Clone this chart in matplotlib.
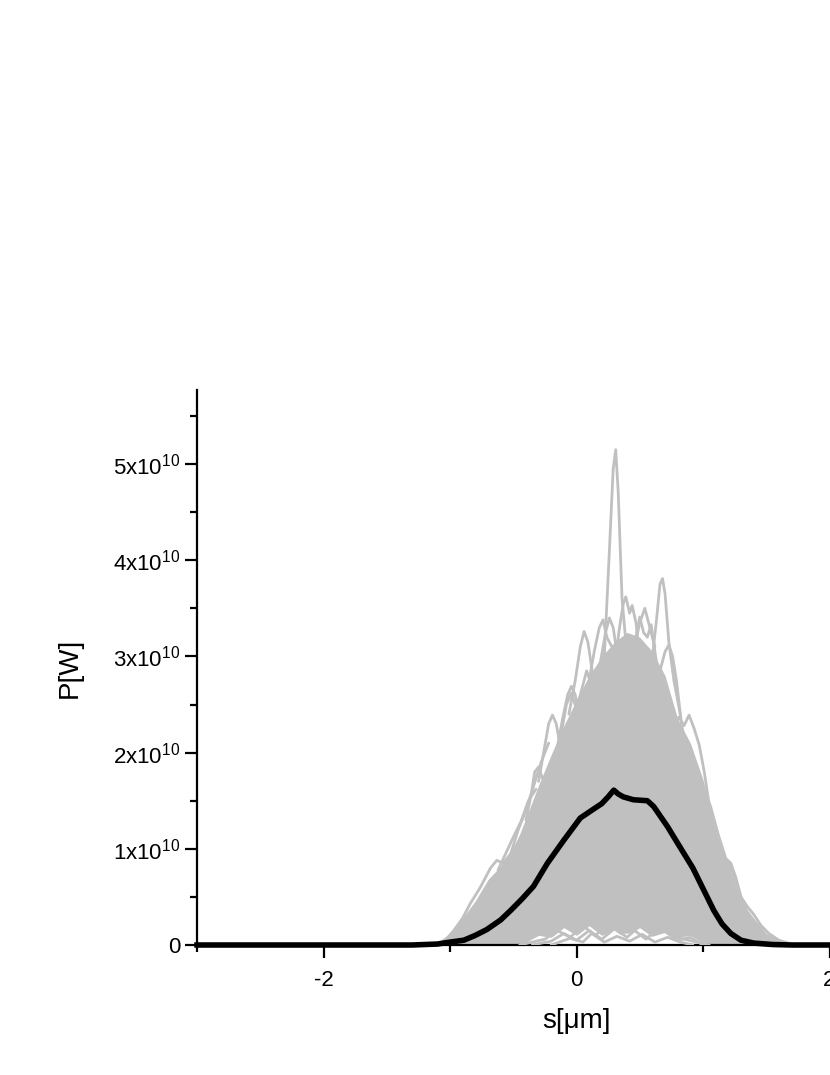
import matplotlib
matplotlib.use("Agg")
import matplotlib.pyplot as plt
from matplotlib.ticker import MultipleLocator, FuncFormatter

plt.rcParams['font.family'] = ['Liberation Sans', 'DejaVu Sans']
plt.rcParams['mathtext.fontset'] = 'custom'
plt.rcParams['mathtext.rm'] = 'Liberation Sans'
plt.rcParams['mathtext.it'] = 'Liberation Sans:italic'
plt.rcParams['mathtext.bf'] = 'Liberation Sans:bold'
plt.rcParams['axes.unicode_minus'] = False

UNIT = 1e10  # P values below are given in units of 1e10 W
GREY = '#c0c0c0'

# ---- dense bulk of the single-shot pulses (solid grey region) ----
bulk_s = [-1.15, -1.1, -1.0, -0.9, -0.8, -0.7, -0.6, -0.5, -0.45, -0.4, -0.3, -0.2,
          -0.1, 0.0, 0.1, 0.2, 0.3, 0.4, 0.5, 0.6, 0.7, 0.8, 0.9, 1.0, 1.05, 1.1,
          1.2, 1.3, 1.4, 1.5, 1.6, 1.7, 1.8]
bulk_top = [0.0, 0.03, 0.12, 0.28, 0.46, 0.68, 0.82, 1.02, 1.15, 1.32, 1.66, 1.98,
            2.28, 2.55, 2.8, 3.0, 3.15, 3.25, 3.2, 3.05, 2.8, 2.35, 2.1, 1.72, 1.45,
            1.15, 0.82, 0.46, 0.28, 0.12, 0.05, 0.01, 0.0]
bulk_bot = [0.0, 0.0, 0.0, 0.0, 0.0, 0.0, 0.0, 0.0, 0.0, 0.03, 0.1, 0.08, 0.18,
            0.1, 0.2, 0.1, 0.16, 0.12, 0.18, 0.1, 0.15, 0.08, 0.1, 0.02, 0.0, 0.0,
            0.0, 0.0, 0.0, 0.0, 0.0, 0.0, 0.0]

# ---- individual shots whose peaks stick out above the bulk ----
shot01_s = [0.18, 0.22, 0.26, 0.29, 0.31, 0.33, 0.36, 0.40, 0.44]
shot01_p = [2.6, 3.0, 4.1, 4.95, 5.15, 4.7, 3.6, 3.0, 2.7]
shot02_s = [0.56, 0.60, 0.63, 0.66, 0.68, 0.70, 0.73, 0.77, 0.82]
shot02_p = [2.7, 3.0, 3.35, 3.75, 3.81, 3.65, 3.15, 2.75, 2.4]
shot03_s = [0.62, 0.66, 0.70, 0.73, 0.76, 0.79, 0.83, 0.88]
shot03_p = [2.6, 2.85, 3.05, 3.12, 3.0, 2.75, 2.3, 1.9]
shot04_s = [-0.06, -0.01, 0.03, 0.06, 0.09, 0.13, 0.18]
shot04_p = [2.4, 2.75, 3.1, 3.26, 3.15, 2.8, 2.5]
shot05_s = [0.30, 0.34, 0.37, 0.39, 0.42, 0.44, 0.47, 0.50, 0.54]
shot05_p = [2.9, 3.3, 3.55, 3.62, 3.45, 3.53, 3.35, 3.0, 2.8]
shot06_s = [0.44, 0.47, 0.50, 0.53, 0.56, 0.59, 0.62, 0.66]
shot06_p = [2.9, 3.2, 3.41, 3.25, 3.2, 3.33, 3.05, 2.7]
shot07_s = [0.14, 0.19, 0.23, 0.26, 0.29, 0.33, 0.38]
shot07_p = [2.6, 2.95, 3.25, 3.4, 3.3, 2.95, 2.7]
shot08_s = [-0.16, -0.11, -0.07, -0.04, -0.01, 0.03, 0.08]
shot08_p = [2.0, 2.35, 2.6, 2.69, 2.6, 2.35, 2.2]
shot09_s = [-0.30, -0.26, -0.22, -0.19, -0.16, -0.12, -0.07]
shot09_p = [1.7, 2.0, 2.3, 2.39, 2.3, 2.0, 1.9]
shot10_s = [0.74, 0.78, 0.81, 0.85, 0.89, 0.93, 0.97, 1.01, 1.05, 1.10, 1.16]
shot10_p = [2.2, 2.3, 2.37, 2.28, 2.39, 2.25, 2.08, 1.8, 1.45, 1.15, 0.9]
shot11_s = [0.58, 0.62, 0.66, 0.70, 0.74]
shot11_p = [2.55, 2.75, 2.82, 2.7, 2.5]
shot12_s = [-1.05, -0.97, -0.90, -0.84, -0.76, -0.68, -0.63, -0.58, -0.52, -0.46,
            -0.40, -0.34, -0.28, -0.22]
shot12_p = [0.03, 0.15, 0.28, 0.43, 0.6, 0.8, 0.88, 0.85, 0.95, 1.2, 1.4, 1.65, 1.9, 2.1]
shot13_s = [1.00, 1.06, 1.12, 1.18, 1.22, 1.26, 1.30, 1.35, 1.40, 1.46, 1.52, 1.60, 1.70]
shot13_p = [1.65, 1.44, 1.15, 0.9, 0.85, 0.7, 0.5, 0.4, 0.32, 0.2, 0.12, 0.05, 0.01]
shot14_s = [-0.40, -0.36, -0.33, -0.30, -0.26, -0.22]
shot14_p = [1.3, 1.55, 1.8, 1.85, 1.7, 1.75]
shot15_s = [-0.12, -0.08, -0.04, 0.0, 0.04, 0.08, 0.12]
shot15_p = [2.2, 2.5, 2.62, 2.45, 2.65, 2.85, 2.7]
shot16_s = [0.10, 0.14, 0.18, 0.21, 0.24, 0.28]
shot16_p = [2.75, 3.05, 3.3, 3.38, 3.2, 3.1]
shot17_s = [0.46, 0.50, 0.54, 0.58, 0.62]
shot17_p = [3.1, 3.35, 3.5, 3.3, 3.1]
shot18_s = [-0.62, -0.56, -0.50, -0.44, -0.38, -0.32]
shot18_p = [0.78, 0.95, 1.12, 1.28, 1.5, 1.62]
shot19_s = [1.08, 1.14, 1.19, 1.24, 1.30, 1.36]
shot19_p = [1.2, 0.95, 0.88, 0.72, 0.5, 0.3]

# ---- low shots near the baseline ----
low01_s = [-0.45, -0.35, -0.25, -0.15, -0.05, 0.05, 0.15, 0.25, 0.35, 0.45, 0.55,
           0.65, 0.75, 0.85, 0.95, 1.05]
low01_p = [0.0, 0.03, 0.06, 0.15, 0.08, 0.2, 0.1, 0.22, 0.12, 0.16, 0.06, 0.18,
           0.1, 0.06, 0.03, 0.0]
low02_s = [-0.35, -0.2, -0.1, 0.0, 0.1, 0.2, 0.3, 0.4, 0.5, 0.6, 0.7, 0.8, 0.9, 1.0]
low02_p = [0.0, 0.04, 0.12, 0.05, 0.15, 0.06, 0.17, 0.08, 0.2, 0.1, 0.14, 0.05, 0.08, 0.0]
low03_s = [-0.2, -0.05, 0.05, 0.12, 0.22, 0.32, 0.42, 0.52, 0.62, 0.72, 0.82, 0.92]
low03_p = [0.0, 0.07, 0.03, 0.12, 0.03, 0.09, 0.04, 0.11, 0.03, 0.08, 0.03, 0.0]

# ---- average power (black) ----
mean_s = [-3.0, -1.3, -1.1, -1.0, -0.89, -0.8, -0.71, -0.6, -0.52, -0.43, -0.34,
          -0.23, -0.10, 0.03, 0.12, 0.20, 0.25, 0.295, 0.33, 0.37, 0.45, 0.56,
          0.61, 0.72, 0.78, 0.85, 0.92, 0.98, 1.085, 1.15, 1.22, 1.30, 1.40, 1.55,
          1.7, 3.0]
mean_p = [0.0, 0.0, 0.01, 0.03, 0.05, 0.1, 0.16, 0.26, 0.36, 0.48, 0.61, 0.85,
          1.09, 1.32, 1.40, 1.47, 1.54, 1.61, 1.57, 1.54, 1.51, 1.50, 1.44, 1.23,
          1.10, 0.95, 0.80, 0.64, 0.36, 0.22, 0.12, 0.05, 0.02, 0.005, 0.0, 0.0]

x_major = [-2, 0, 2]
y_major = [0, 1, 2, 3, 4, 5]

fig = plt.figure(figsize=(8.3, 10.75), dpi=100)
ax = fig.add_axes([197 / 830, 130 / 1075, 759 / 830, 555 / 1075])

sc = lambda v: [u * UNIT for u in v]

ax.fill_between(bulk_s, sc(bulk_bot), sc(bulk_top), color=GREY, lw=0, zorder=2)
shots = [(shot01_s, shot01_p), (shot02_s, shot02_p), (shot03_s, shot03_p),
         (shot04_s, shot04_p), (shot05_s, shot05_p), (shot06_s, shot06_p),
         (shot07_s, shot07_p), (shot08_s, shot08_p), (shot09_s, shot09_p),
         (shot10_s, shot10_p), (shot11_s, shot11_p), (shot12_s, shot12_p),
         (shot13_s, shot13_p), (shot14_s, shot14_p), (shot15_s, shot15_p),
         (shot16_s, shot16_p), (shot17_s, shot17_p), (shot18_s, shot18_p),
         (shot19_s, shot19_p),
         (low01_s, low01_p), (low02_s, low02_p), (low03_s, low03_p)]
for s, p in shots:
    ax.plot(s, sc(p), color=GREY, lw=2.0, zorder=3, solid_joinstyle='round',
            solid_capstyle='round')

ax.plot(mean_s, sc(mean_p), color='black', lw=4.0, zorder=5, clip_on=False,
        solid_joinstyle='round')

ax.set_xlim(-3, 3)
ax.set_ylim(0, 5.77 * UNIT)

for sp in ('top', 'right'):
    ax.spines[sp].set_visible(False)
for sp in ('left', 'bottom'):
    ax.spines[sp].set_linewidth(1.6)

ax.set_xticks(x_major)
ax.xaxis.set_minor_locator(MultipleLocator(1))
ax.set_yticks([v * UNIT for v in y_major])
ax.yaxis.set_minor_locator(MultipleLocator(0.5 * UNIT))


def yfmt(v, pos):
    n = int(round(v / UNIT))
    return '0' if n == 0 else r'%dx10$^{10}$' % n


ax.yaxis.set_major_formatter(FuncFormatter(yfmt))
ax.tick_params(which='major', direction='out', length=9, width=1.6, labelsize=16)
ax.tick_params(axis='x', which='major', pad=9)
ax.tick_params(axis='y', which='major', pad=3)
ax.tick_params(which='minor', direction='out', length=5, width=1.6)

ax.set_xlabel('s[μm]', fontsize=20, labelpad=12)
ax.set_ylabel('P[W]', fontsize=20, labelpad=22)

fig.savefig('out.png', dpi=100)
